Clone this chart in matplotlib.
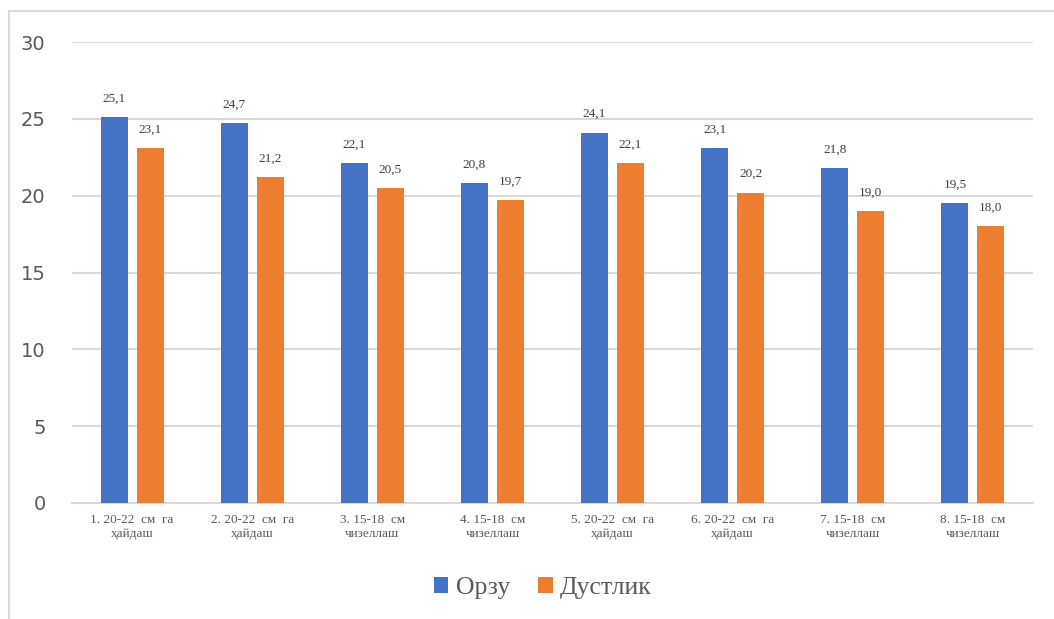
import matplotlib

matplotlib.use("Agg")
import matplotlib.pyplot as plt
import numpy as np
from matplotlib.patches import Rectangle

plt.rcParams["font.family"] = ["Liberation Serif", "DejaVu Serif"]

categories = [
    "1. 20-22  см  га\nҳайдаш",
    "2. 20-22  см  га\nҳайдаш",
    "3. 15-18  см\nчизеллаш",
    "4. 15-18  см\nчизеллаш",
    "5. 20-22  см  га\nҳайдаш",
    "6. 20-22  см  га\nҳайдаш",
    "7. 15-18  см\nчизеллаш",
    "8. 15-18  см\nчизеллаш",
]
orzu = [25.1, 24.7, 22.1, 20.8, 24.1, 23.1, 21.8, 19.5]
dustlik = [23.1, 21.2, 20.5, 19.7, 22.1, 20.2, 19.0, 18.0]
series_names = ["Орзу", "Дустлик"]
yticks = [0, 5, 10, 15, 20, 25, 30]

W, H = 1054, 619
fig = plt.figure(figsize=(W / 100, H / 100), dpi=100)
fig.patches.append(Rectangle((9 / W, -0.1), 1.2, 1 - 11 / H + 0.1,
                             transform=fig.transFigure, fill=False,
                             edgecolor="#d9d9d9", lw=1.5))

ax = fig.add_axes([72 / W, 116 / H, (1033 - 72) / W, (503 - 42) / H])
x = np.arange(len(categories))
bw = 0.225
off = 0.15
b1 = ax.bar(x - off, orzu, bw, color="#4472C4", label=series_names[0], zorder=3)
b2 = ax.bar(x + off, dustlik, bw, color="#ED7D31", label=series_names[1], zorder=3)

for bars in (b1, b2):
    labels = [f"{b.get_height():.1f}".replace(".", ",") for b in bars]
    ax.bar_label(bars, labels=labels, padding=9, fontsize=9.5, color="#404040")

ax.set_xlim(-0.5, len(categories) - 0.5)
ax.set_ylim(0, 30)
ax.set_yticks(yticks)
ax.set_xticks(x)
ax.set_xticklabels(categories, fontsize=9.5, color="#595959", linespacing=1.25)
ax.tick_params(axis="y", length=0, pad=19, labelsize=14, labelcolor="#595959")
ax.tick_params(axis="x", length=0, pad=8)
for lbl in ax.get_yticklabels():
    lbl.set_family(["DejaVu Sans"])
ax.grid(axis="y", color="#d9d9d9", lw=1.5, zorder=0)
for s in ["top", "right", "left"]:
    ax.spines[s].set_visible(False)
ax.spines["bottom"].set_color("#d9d9d9")
ax.spines["bottom"].set_linewidth(1.5)

fig.legend(handles=[b1, b2], loc="center", bbox_to_anchor=(543 / W, 1 - 588 / H),
           ncol=2, frameon=False, fontsize=18.5, handlelength=0.55, handleheight=0.55,
           handletextpad=0.3, columnspacing=1.1, labelcolor="#595959")

fig.savefig("out.png", dpi=100)
